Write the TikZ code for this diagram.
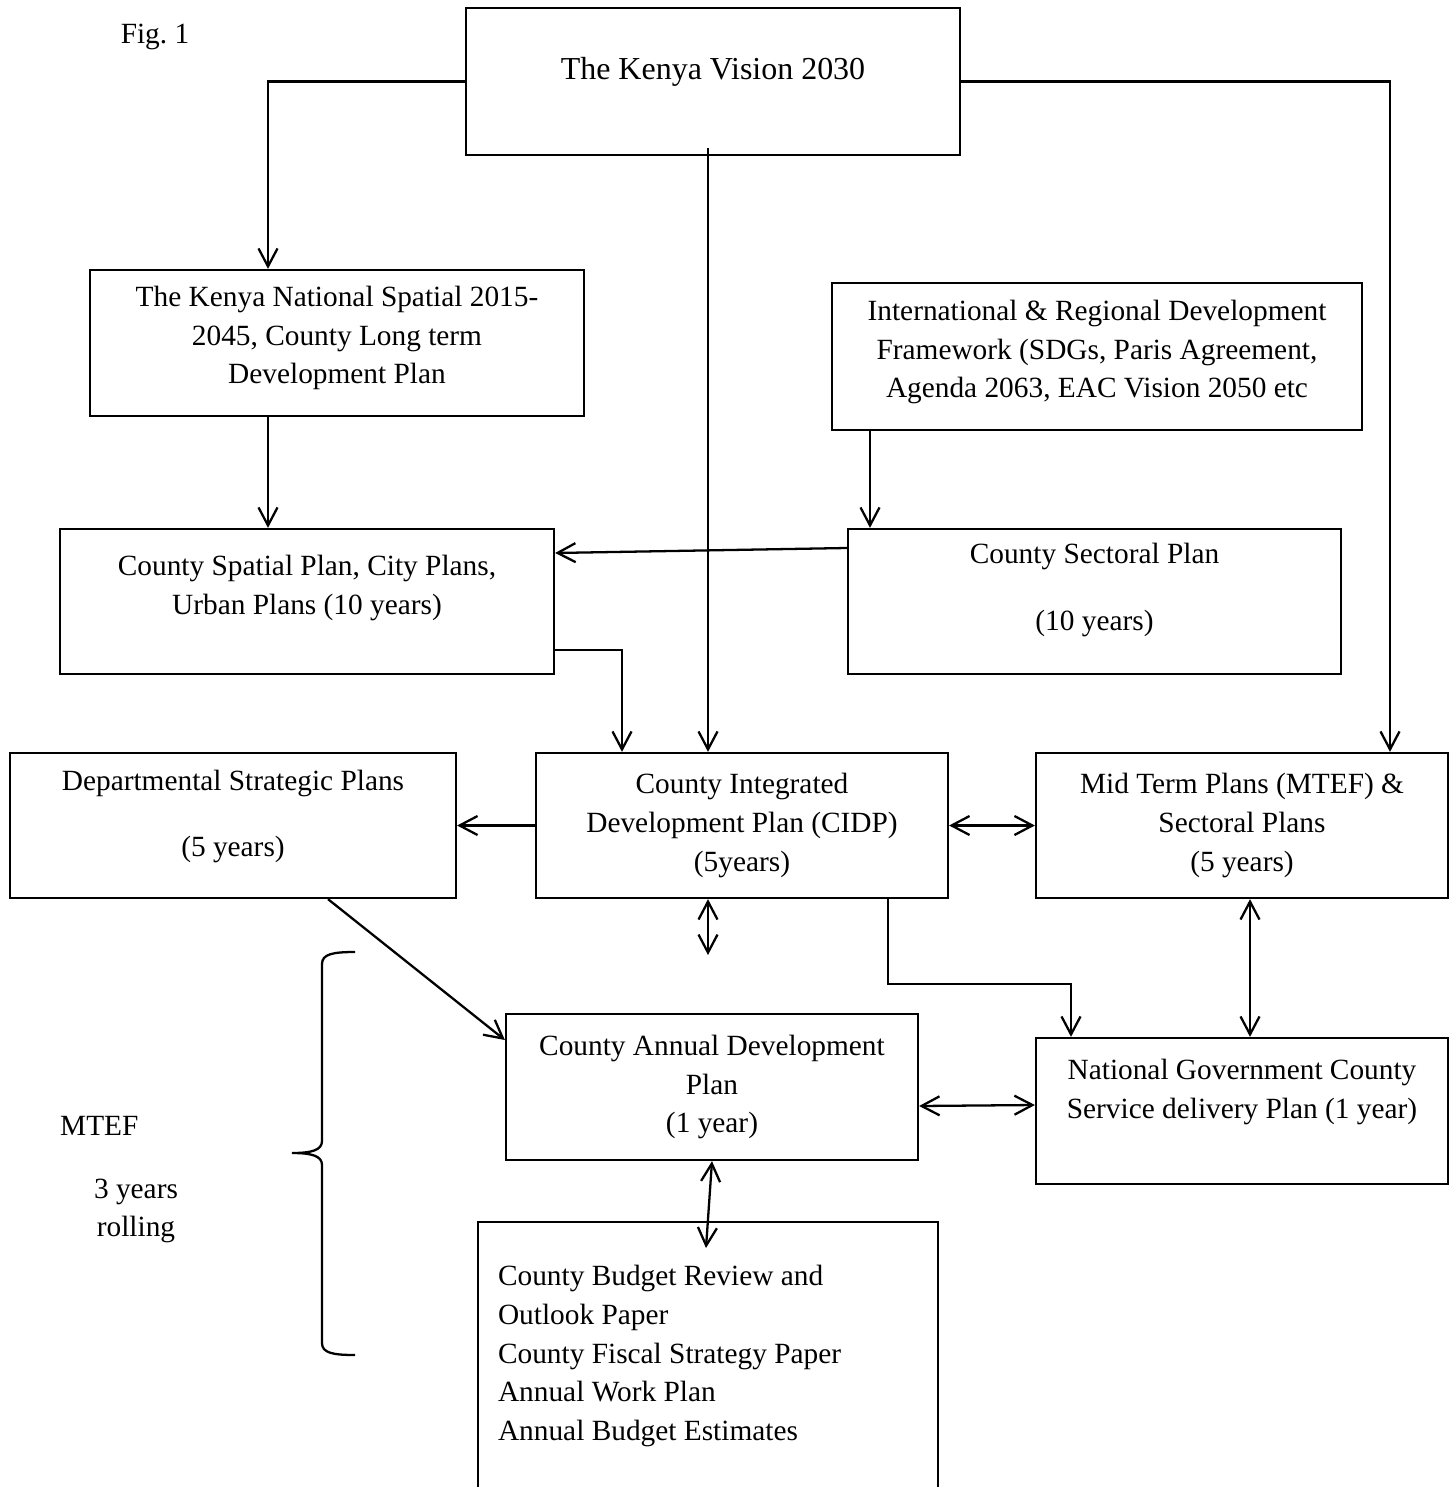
\documentclass[tikz,border=0pt]{standalone}
\usepackage{fontspec}
\setmainfont{Liberation Serif}
\usetikzlibrary{positioning, arrows.meta, calc}

\begin{document}
\begin{tikzpicture}[x=0.02cm, y=-0.02cm,
  box/.style={draw, rectangle, line width=1.3pt, inner sep=0pt, align=center, font=\fontsize{16.7}{22}\selectfont},
  txt/.style={align=center, font=\fontsize{16.7}{22}\selectfont},
  arr/.style={-{Straight Barb[length=3.6mm, width=3.8mm]}, line width=1.3pt},
  dblarr/.style={{Straight Barb[length=3.6mm, width=3.8mm]}-{Straight Barb[length=3.6mm, width=3.8mm]}, line width=1.3pt}]
  \useasboundingbox (0,0) rectangle (1455,1487);

  \node[box, minimum width=9.88cm, minimum height=2.94cm, font=\fontsize{18.2}{22}\selectfont, text depth=14.7pt] (Vision) at (713,81.5) {The Kenya Vision 2030};
  \node[box, minimum width=9.88cm, minimum height=2.92cm, text depth=9.3pt] (NatSpatial) at (337,343) {The Kenya National Spatial 2015-\\2045, County Long term\\Development Plan};
  \node[box, minimum width=10.6cm, minimum height=2.94cm, text depth=8.7pt] (Intl) at (1097,356.5) {International \& Regional Development\\Framework (SDGs, Paris Agreement,\\Agenda 2063, EAC Vision 2050 etc};
  \node[box, minimum width=9.88cm, minimum height=2.9cm, text depth=18.7pt] (CSpatial) at (307,601.5) {County Spatial Plan, City Plans,\\Urban Plans (10 years)};
  \node[box, minimum width=9.86cm, minimum height=2.9cm, text depth=16.7pt] (Sectoral) at (1094.5,601.5) {County Sectoral Plan\\[15.6pt](10 years)};
  \node[box, minimum width=8.92cm, minimum height=2.9cm, text depth=13.7pt] (Dept) at (233,825.5) {Departmental Strategic Plans\\[15.6pt](5 years)};
  \node[box, minimum width=8.24cm, minimum height=2.9cm] (CIDP) at (742,825.5) {County Integrated\\Development Plan (CIDP)\\(5years)};
  \node[box, minimum width=8.24cm, minimum height=2.9cm] (MTP) at (1242,825.5) {Mid Term Plans (MTEF) \&\\Sectoral Plans\\(5 years)};
  \node[box, minimum width=8.24cm, minimum height=2.92cm] (CADP) at (712,1087) {County Annual Development\\Plan\\(1 year)};
  \node[box, minimum width=8.24cm, minimum height=2.92cm, text depth=25.6pt] (NGCSDP) at (1242,1111) {National Government County\\Service delivery Plan (1 year)};
  \node[box, minimum width=9.2cm, minimum height=5.36cm, text width=8.4cm, inner xsep=0.4cm, align=flush left] (Budget) at (708,1356) {County Budget Review and\\Outlook Paper\\County Fiscal Strategy Paper\\Annual Work Plan\\Annual Budget Estimates};

  \node[txt] (fig) at (155,37) {Fig.\ 1};
  \node[txt, anchor=west] (mtef) at (54,1126) {MTEF};
  \node[txt] (rolling) at (136,1211) {3 years\\rolling};

  % links from the vision
  \draw[arr] (Vision.west) -| ($(NatSpatial.north)+(-69,0)$);
  \draw[arr] (Vision.east) -| ($(MTP.north)+(148,0)$);
  \draw[arr] ($(Vision.south)+(-5,-8)$) -- ($(CIDP.north)+(-34,0)$);

  \draw[arr] ($(NatSpatial.south)+(-69,0)$) -- ($(CSpatial.north)+(-39,0)$);
  \draw[arr] ($(Intl.south)+(-227,0)$) -- ($(Sectoral.north)+(-224.5,0)$);
  \draw[arr] ($(Sectoral.west)+(0,-53.5)$) -- ($(CSpatial.east)+(0,-48.5)$);
  \draw[arr] ($(CSpatial.east)+(0,48.5)$) -| ($(CIDP.north)+(-120,0)$);

  \draw[arr] (CIDP.west) -- (Dept.east);
  \draw[dblarr] (CIDP.east) -- (MTP.west);
  \coordinate (cidpend) at (708,955);
  \draw[dblarr] (CIDP.south -| cidpend) -- (cidpend);
  \draw[arr] ($(CIDP.south)+(146,0)$) -- ++(0,85) -| ($(NGCSDP.north)+(-171,0)$);
  \draw[dblarr] ($(MTP.south)+(8,0)$) -- ($(NGCSDP.north)+(8,0)$);
  \draw[arr] ($(Dept.south)+(95,0)$) -- ($(CADP.west)+(0,-47)$);
  \draw[dblarr] ($(CADP.east)+(0,19)$) -- ($(NGCSDP.west)+(0,-6)$);
  \coordinate (budgetend) at (706,1248);
  \draw[dblarr] (CADP.south) -- (budgetend);

  % brace for the MTEF span
  \draw[line width=1.3pt] (355,952) .. controls (333,952) and (322,954) .. (322,964) -- (322,1141)
    .. controls (322,1150) and (312,1153) .. (292,1153) .. controls (312,1153) and (322,1156) .. (322,1165)
    -- (322,1343) .. controls (322,1353) and (333,1355) .. (355,1355);
\end{tikzpicture}
\end{document}
